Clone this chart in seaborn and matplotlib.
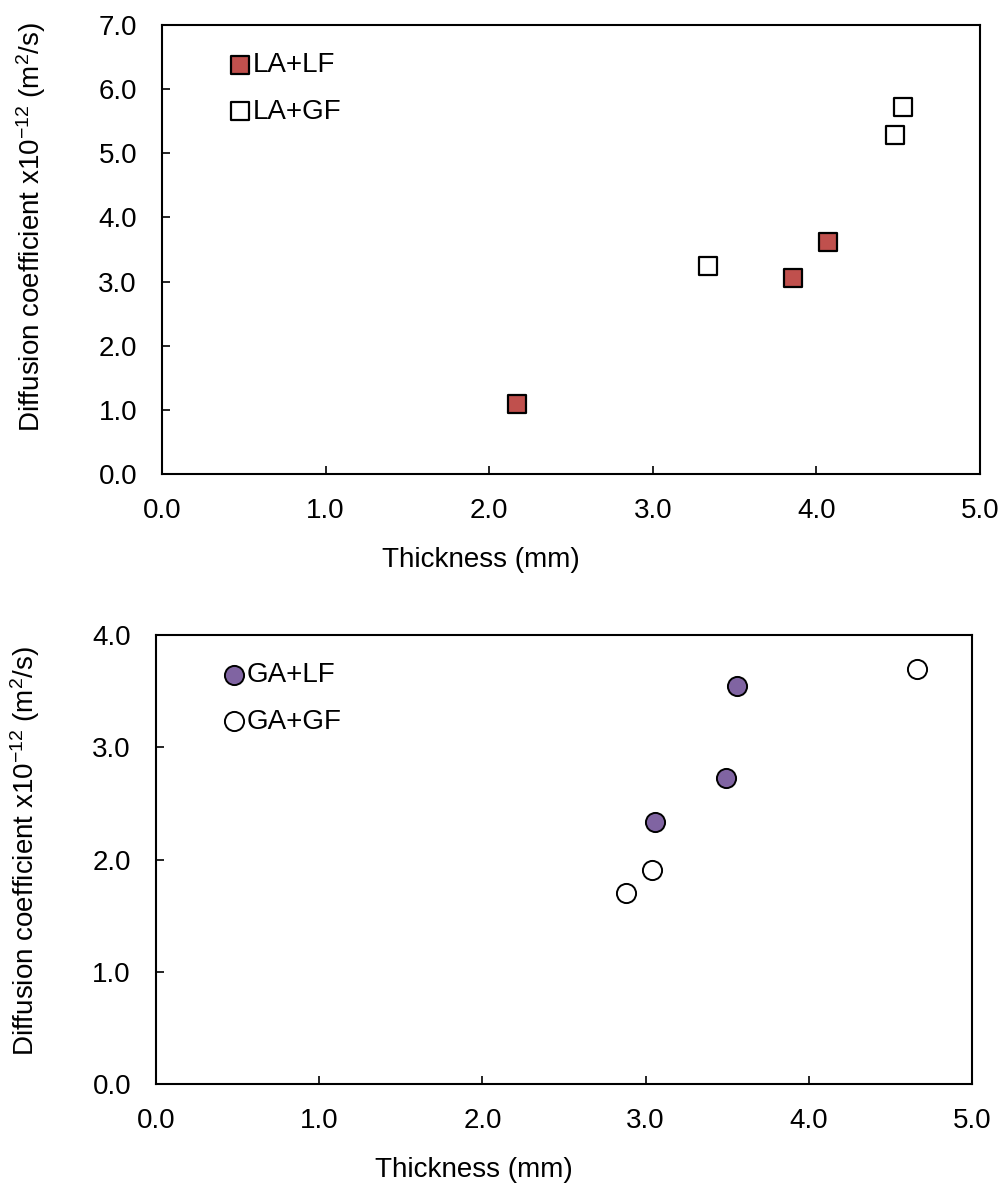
import matplotlib
matplotlib.use("Agg")
import matplotlib.pyplot as plt
import seaborn as sns
import pandas as pd
from matplotlib.ticker import FormatStrFormatter, MultipleLocator

# Data
la_lf_x = [2.17, 3.86, 4.07]
la_lf_y = [1.09, 3.06, 3.62]
la_gf_x = [3.34, 4.48, 4.53]
la_gf_y = [3.25, 5.29, 5.72]

ga_lf_x = [3.06, 3.49, 3.56]
ga_lf_y = [2.33, 2.73, 3.55]
ga_gf_x = [2.88, 3.04, 4.66]
ga_gf_y = [1.70, 1.91, 3.70]

top_labels = ["LA+LF", "LA+GF"]
bottom_labels = ["GA+LF", "GA+GF"]
x_label = "Thickness (mm)"
y_label = "Diffusion coefficient x10$^{-12}$ (m$^2$/s)"

sns.set_style("white")
plt.rcParams['font.family'] = ['Liberation Sans', 'DejaVu Sans']
plt.rcParams['mathtext.fontset'] = 'custom'
plt.rcParams['mathtext.rm'] = 'Liberation Sans'
plt.rcParams['mathtext.it'] = 'Liberation Sans'
plt.rcParams['text.color'] = 'black'
plt.rcParams['axes.labelcolor'] = 'black'
FS = 20

fig = plt.figure(figsize=(10.05, 11.87), dpi=100)
ax1 = fig.add_axes([162/1005, 1-474/1187, 818/1005, 449/1187])
ax2 = fig.add_axes([156/1005, 1-1084/1187, 816/1005, 449/1187])

red = "#C0504D"
purple = "#8064A2"

df_top1 = pd.DataFrame({"x": la_lf_x, "y": la_lf_y})
df_top2 = pd.DataFrame({"x": la_gf_x, "y": la_gf_y})
df_bot1 = pd.DataFrame({"x": ga_lf_x, "y": ga_lf_y})
df_bot2 = pd.DataFrame({"x": ga_gf_x, "y": ga_gf_y})

sns.scatterplot(data=df_top1, x="x", y="y", ax=ax1, marker="s", s=150,
                color=red, edgecolor="black", linewidth=1.6, label=top_labels[0], zorder=3)
sns.scatterplot(data=df_top2, x="x", y="y", ax=ax1, marker="s", s=150,
                color="white", edgecolor="black", linewidth=1.6, label=top_labels[1], zorder=3)
sns.scatterplot(data=df_bot1, x="x", y="y", ax=ax2, marker="o", s=190,
                color=purple, edgecolor="black", linewidth=1.4, label=bottom_labels[0], zorder=3)
sns.scatterplot(data=df_bot2, x="x", y="y", ax=ax2, marker="o", s=190,
                color="white", edgecolor="black", linewidth=1.4, label=bottom_labels[1], zorder=3)

for ax, ymax, ylab_pos in [(ax1, 7.0, 0.55), (ax2, 4.0, 0.52)]:
    ax.set_xlim(0, 5)
    ax.set_ylim(0, ymax)
    ax.xaxis.set_major_locator(MultipleLocator(1.0))
    ax.yaxis.set_major_locator(MultipleLocator(1.0))
    ax.xaxis.set_major_formatter(FormatStrFormatter('%.1f'))
    ax.yaxis.set_major_formatter(FormatStrFormatter('%.1f'))
    ax.tick_params(axis='both', direction='in', length=6, width=1.2,
                   labelsize=FS, color='black', labelcolor='black')
    ax.tick_params(axis='x', pad=17)
    ax.tick_params(axis='y', pad=18)
    ax.tick_params(top=False, right=False, bottom=True, left=True)
    for sp in ax.spines.values():
        sp.set_visible(True)
        sp.set_color('black')
        sp.set_linewidth(1.5)
    ax.set_xlabel(x_label, fontsize=FS, labelpad=17, color='black')
    ax.set_ylabel(y_label, fontsize=FS, labelpad=36, color='black')
    ax.xaxis.set_label_coords(0.39, -0.162)
    ax.yaxis.label.set_y(ylab_pos)
    leg = ax.legend(loc='upper left', bbox_to_anchor=(0.07, 0.965), frameon=False,
                    fontsize=FS, handlelength=0.7, handletextpad=0.1,
                    labelspacing=0.75, borderaxespad=0)
    for t in leg.get_texts():
        t.set_color('black')

fig.savefig("out.png", dpi=100, facecolor="white")
